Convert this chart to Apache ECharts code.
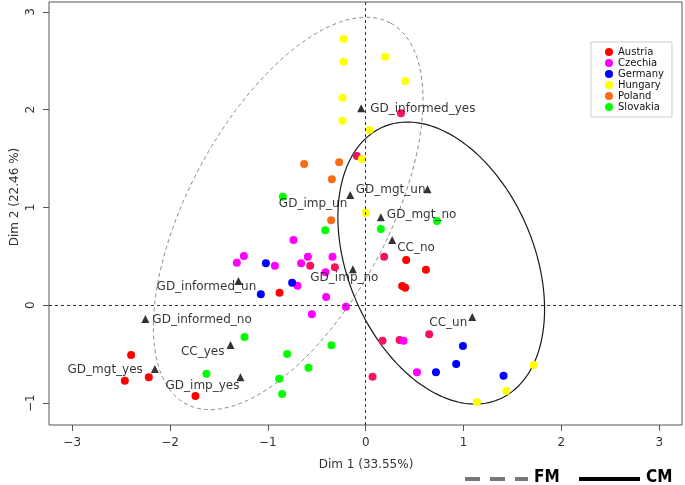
<!DOCTYPE html>
<html><head><meta charset="utf-8">
<script src="https://cdn.jsdelivr.net/npm/echarts@6/dist/echarts.min.js"></script>
<style>html,body{margin:0;padding:0;background:#fff}#c{width:685px;height:485px}</style>
</head><body><div id="c"></div>
<script>
// ---- data (Dim 1, Dim 2) ----
const austria = [[0.414,0.463],[0.616,0.364],[0.373,0.197],[0.404,0.180],[-0.881,0.129],[-2.398,-0.508],[-2.217,-0.736],[-2.462,-0.771],[-1.740,-0.927]];
const czechia = [[-0.738,0.668],[-1.245,0.504],[-1.317,0.436],[-0.928,0.405],[-0.591,0.497],[-0.660,0.429],[-0.339,0.497],[-0.411,0.337],[-0.697,0.200],[-0.404,0.085],[-0.202,-0.014],[-0.550,-0.092],[0.387,-0.362],[0.524,-0.685]];
const germany = [[-1.020,0.429],[-0.752,0.231],[-1.072,0.112],[0.994,-0.416],[0.925,-0.600],[0.718,-0.685],[1.409,-0.720]];
const hungary = [[-0.227,2.723],[0.199,2.542],[-0.227,2.491],[0.404,2.293],[-0.237,2.123],[-0.237,1.888],[0.039,1.792],[-0.039,1.496],[0.002,0.947],[1.716,-0.610],[1.437,-0.876],[1.137,-0.989]];
const poland = [[-0.629,1.445],[-0.271,1.462],[-0.346,1.288],[-0.353,0.869]];
const slovakia = [[-0.847,1.110],[-0.414,0.767],[0.155,0.780],[0.728,0.862],[-1.239,-0.324],[-0.350,-0.409],[-0.803,-0.498],[-0.585,-0.638],[-1.628,-0.699],[-0.884,-0.751],[-0.854,-0.907]];
const overlap = [[0.360,1.963],[-0.090,1.527],[-0.567,0.405],[-0.315,0.389],[0.189,0.497],[0.172,-0.362],[0.346,-0.355],[0.649,-0.297],[0.070,-0.730]];
const categoryNames = ['GD_informed_yes','GD_mgt_un','GD_imp_un','GD_mgt_no','CC_no','GD_imp_no','GD_informed_un','GD_informed_no','CC_yes','GD_mgt_yes','GD_imp_yes','CC_un'];
const categoryX = [-0.046,0.632,-0.158,0.155,0.271,-0.131,-1.301,-2.252,-1.382,-2.155,-1.280,1.089];
const categoryY = [2.014,1.186,1.128,0.900,0.668,0.368,0.248,-0.140,-0.406,-0.651,-0.736,-0.120];
// ellipses: [centerX, centerY, semiMajor, semiMinor, angleDeg]
const ellipseFM = [-0.792, 0.939, 2.21, 1.02, 61.8];
const ellipseCM = [0.772, 0.432, 1.513, 0.951, -67];
const tickValues = [-3,-2,-1,0,1,2,3];
const yTickValues = [-1,0,1,2,3];
const countries = ['Austria','Czechia','Germany','Hungary','Poland','Slovakia'];

// ---- styling ----
const colors = {Austria:'#ff0000',Czechia:'#ff00ff',Germany:'#0000ff',Hungary:'#ffff00',Poland:'#f86c14',Slovakia:'#00ff00'};
const labelPlace = {
  GD_informed_yes:['left',9,1], GD_mgt_un:['right',-2,1], GD_imp_un:['right',-3,9],
  GD_mgt_no:['left',6,-2], CC_no:['left',5,8], GD_imp_no:['center',-8.5,8.5],
  GD_informed_un:['center',-32,6], GD_informed_no:['left',7,1], CC_yes:['right',-6,7],
  GD_mgt_yes:['right',-12,1], GD_imp_yes:['right',-1,9], CC_un:['right',-5,6]
};
function ellipsePts(e){
  const [cx,cy,a,b,ang]=e, t=ang*Math.PI/180, out=[];
  for(let i=0;i<=240;i++){const s=i/240*2*Math.PI;
    const u=a*Math.cos(s), v=b*Math.sin(s);
    out.push([cx+u*Math.cos(t)-v*Math.sin(t), cy+u*Math.sin(t)+v*Math.cos(t)]);}
  return out;
}
const chart = echarts.init(document.getElementById('c'));
const dataByCountry = {Austria:austria,Czechia:czechia,Germany:germany,Hungary:hungary,Poland:poland,Slovakia:slovakia};
const series = [
  {type:'line',data:ellipsePts(ellipseFM),showSymbol:false,silent:true,z:1,
   lineStyle:{color:'#8a8a8a',width:1,type:[4,3]},
   markLine:{silent:true,symbol:'none',label:{show:false},lineStyle:{color:'#333',width:1,type:[3,3]},data:[{xAxis:0},{yAxis:0}]}},
  {type:'line',data:ellipsePts(ellipseCM),showSymbol:false,silent:true,z:1,lineStyle:{color:'#1a1a1a',width:1.2}},
  {name:'overlap',type:'scatter',data:overlap,symbolSize:8,itemStyle:{color:'#f5125f',opacity:1},z:3}
];
countries.forEach(c=>series.push({name:c,type:'scatter',data:dataByCountry[c],symbolSize:8,itemStyle:{color:colors[c],opacity:1},z:3}));
series.push({type:'scatter',symbol:'triangle',symbolSize:8,itemStyle:{color:'#000'},z:5,
  data:categoryNames.map((n,i)=>{const p=labelPlace[n];return {name:n,value:[categoryX[i],categoryY[i]],
    label:{show:true,position:'inside',align:p[0],verticalAlign:'middle',offset:[p[1],p[2]],formatter:n,
      color:'#000',fontSize:12,fontFamily:'DejaVu Sans'}};})});
chart.setOption({
  animation:false,
  grid:{left:49,right:3,top:2,bottom:60,show:true,borderColor:'#555',borderWidth:1},
  xAxis:{type:'value',min:-3.237,max:3.233,position:'bottom',
    axisLine:{show:false,onZero:false},splitLine:{show:false},
    axisTick:{show:true,inside:false,length:6,customValues:tickValues,lineStyle:{color:'#555'}},
    axisLabel:{customValues:tickValues,margin:12,color:'#333',fontSize:12,fontFamily:'DejaVu Sans',
      formatter:v=>String(v).replace('-','\u2212')}},
  yAxis:{type:'value',min:-1.224,max:3.101,position:'left',
    axisLine:{show:false,onZero:false},splitLine:{show:false},
    axisTick:{show:true,inside:false,length:6,customValues:yTickValues,lineStyle:{color:'#555'}},
    axisLabel:{customValues:yTickValues,rotate:90,margin:12,color:'#333',fontSize:12,fontFamily:'DejaVu Sans',
      formatter:v=>String(v).replace('-','\u2212')}},
  legend:{data:countries,orient:'vertical',left:591,top:42,itemWidth:8,itemHeight:8,itemGap:1,
    icon:'circle',padding:[5,8,5,14],borderColor:'#ccc',borderWidth:1,backgroundColor:'#fff',
    textStyle:{fontSize:10,lineHeight:10,fontFamily:'DejaVu Sans',color:'#111'}},
  graphic:[
    {type:'text',x:15,y:197,rotation:Math.PI/2,style:{text:'Dim 2 (22.46 %)',fill:'#333',font:'12px DejaVu Sans',textAlign:'center',textVerticalAlign:'middle'}},
    {type:'text',x:366,y:465,style:{text:'Dim 1 (33.55%)',fill:'#333',font:'12px DejaVu Sans',textAlign:'center',textVerticalAlign:'middle'}},
    {type:'line',shape:{x1:465,y1:479,x2:528,y2:479},style:{stroke:'#777',lineWidth:4,lineDash:[15,10]}},
    {type:'text',x:534,y:478,style:{text:'FM',fill:'#000',font:'bold 17px "Liberation Sans Narrow", "DejaVu Sans Condensed", sans-serif',textVerticalAlign:'middle'}},
    {type:'line',shape:{x1:579,y1:479,x2:640,y2:479},style:{stroke:'#000',lineWidth:4}},
    {type:'text',x:646,y:478,style:{text:'CM',fill:'#000',font:'bold 17px "Liberation Sans Narrow", "DejaVu Sans Condensed", sans-serif',textVerticalAlign:'middle'}}
  ],
  series:series
});
</script></body></html>
